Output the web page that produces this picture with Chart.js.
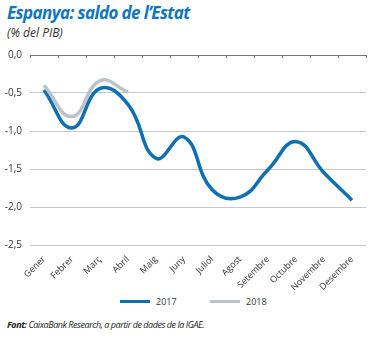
<!DOCTYPE html>
<html>
<head>
<meta charset="utf-8">
<script src="https://cdn.jsdelivr.net/npm/chart.js@4"></script>
<style>
  body { margin: 0; width: 384px; height: 338px; background: #fff; font-family: 'Open Sans', sans-serif; position: relative; overflow: hidden; }
  #titol { position: absolute; left: 7px; top: 1px; font: italic bold 17px 'Open Sans', sans-serif; color: #0f75bc; letter-spacing: -0.6px; }
  #subtitol { position: absolute; left: 7px; top: 24px; font: italic 12px 'Open Sans', sans-serif; color: #333; }
  #grafic { position: absolute; left: 0; top: 40px; width: 384px; height: 250px; }
  #llegenda { position: absolute; top: 295px; left: 0; width: 384px; font-size: 9px; color: #333; }
  #llegenda span { position: absolute; top: 0; }
  .linia { position: absolute; height: 3px; width: 30px; top: 5px; }
  #font { position: absolute; left: 7px; top: 318px; font: italic 9px 'Open Sans', sans-serif; color: #222; letter-spacing: -0.45px; }
</style>
</head>
<body>
<div id="titol">Espanya: saldo de l’Estat</div>
<div id="subtitol">(% del PIB)</div>
<div id="grafic"><canvas id="c"></canvas></div>
<div id="llegenda">
  <div class="linia" style="left:120px; background:#0f6fb5;"></div><span style="left:156px;">2017</span>
  <div class="linia" style="left:210px; background:#b9c3c9;"></div><span style="left:246px;">2018</span>
</div>
<div id="font"><b>Font:</b> CaixaBank Research, a partir de dades de la IGAE.</div>
<script>
// Dades
const mesos = ['Gener', 'Febrer', 'Març', 'Abril', 'Maig', 'Juny', 'Juliol', 'Agost', 'Setembre', 'Octubre', 'Novembre', 'Desembre'];
const saldo2017 = [-0.46, -0.96, -0.44, -0.65, -1.36, -1.08, -1.77, -1.87, -1.51, -1.14, -1.55, -1.91];
const saldo2018 = [-0.40, -0.81, -0.34, -0.49, null, null, null, null, null, null, null, null];
const ticksY = [0, -0.5, -1, -1.5, -2, -2.5];

// Línia del zero amb marques de categoria
const eixZero = {
  id: 'eixZero',
  afterDraw(chart) {
    const ctx = chart.ctx;
    const y = chart.scales.y.getPixelForValue(0);
    const { left, right } = chart.chartArea;
    ctx.save();
    ctx.strokeStyle = '#777';
    ctx.lineWidth = 1;
    ctx.beginPath();
    ctx.moveTo(left, y + 0.5);
    ctx.lineTo(right, y + 0.5);
    const pas = (right - left) / mesos.length;
    for (let i = 0; i <= mesos.length; i++) {
      const xx = Math.round(left + i * pas) + 0.5;
      ctx.moveTo(xx, y);
      ctx.lineTo(xx, y + 3);
    }
    ctx.stroke();
    ctx.restore();
  }
};

new Chart(document.getElementById('c'), {
  type: 'line',
  data: {
    labels: mesos,
    datasets: [
      { label: '2018', data: saldo2018, borderColor: '#b9c3c9', borderWidth: 3.5, tension: 0.45, pointRadius: 0, spanGaps: false },
      { label: '2017', data: saldo2017, borderColor: '#0f6fb5', borderWidth: 3.5, tension: 0.45, pointRadius: 0 }
    ]
  },
  options: {
    responsive: true,
    maintainAspectRatio: false,
    animation: false,
    layout: { padding: { top: 15, right: 18, left: 0, bottom: 0 } },
    plugins: { legend: { display: false }, tooltip: { enabled: false } },
    scales: {
      x: {
        offset: true,
        grid: { display: false },
        border: { display: false },
        ticks: { minRotation: 45, maxRotation: 45, autoSkip: false, padding: 1, color: '#333', font: { family: 'Open Sans', size: 9 } },
        afterFit(s) { s.height = 45; }
      },
      y: {
        min: -2.5, max: 0,
        afterBuildTicks(s) { s.ticks = ticksY.map(v => ({ value: v })); },
        grid: { color: ctx => ctx.tick && ctx.tick.value === 0 ? 'rgba(0,0,0,0)' : '#c8c8c8', drawTicks: false, lineWidth: 1 },
        border: { display: false },
        ticks: {
          padding: 8, color: '#333', font: { family: 'Open Sans', size: 10 },
          callback: v => v.toFixed(1).replace('.', ',')
        },
        afterFit(s) { s.width = 30; }
      }
    }
  },
  plugins: [eixZero]
});
</script>
</body>
</html>
